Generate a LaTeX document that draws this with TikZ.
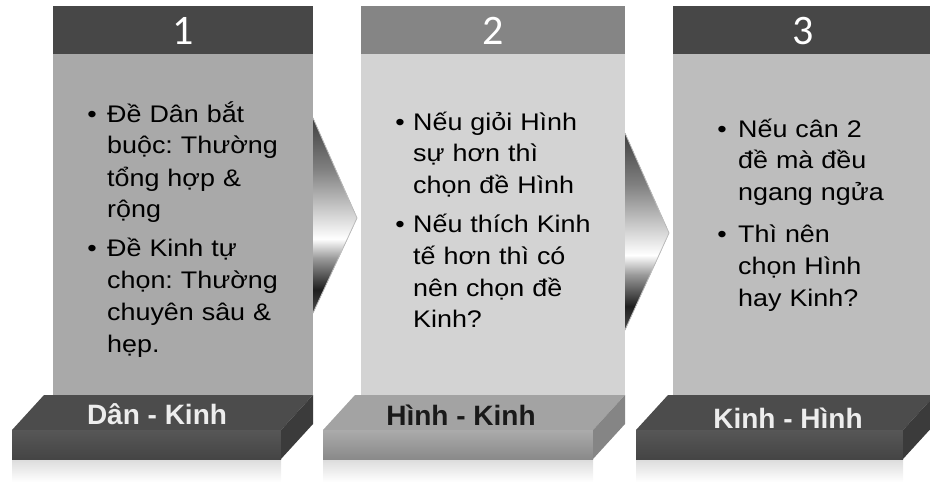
\documentclass[tikz,border=0pt]{standalone}
\usepackage{fontspec}
\setmainfont{Liberation Sans}
\newfontfamily\bodyfont[FakeStretch=1.12]{Liberation Sans}
\newfontfamily\numfont{Carlito}
\definecolor{headdark}{HTML}{474747}
\definecolor{headmid}{HTML}{858585}
\definecolor{bodyA}{HTML}{A9A9A9}
\definecolor{bodyB}{HTML}{D3D3D3}
\definecolor{bodyC}{HTML}{BDBDBD}
\frenchspacing
\pgfdeclareverticalshading{chevshade}{100bp}{color(0bp)=(black!70); color(25bp)=(black!70); color(31bp)=(black!88); color(39bp)=(black!40); color(44bp)=(white); color(52bp)=(black!22); color(62bp)=(black!50); color(75bp)=(black!75); color(100bp)=(black!75)}
\tikzset{
	numtext/.style={anchor=base, text=white, font=\numfont\fontsize{42}{42}\selectfont},
	bul/.style={anchor=base, inner sep=0pt, font=\bodyfont\fontsize{24}{32}\selectfont},
	txt/.style={anchor=base west, inner sep=0pt, text width=200pt, align=left, font=\bodyfont\frenchspacing\fontsize{24}{32}\selectfont},
	lbl/.style={anchor=base, font=\bfseries\fontsize{28}{28}\selectfont},
	chev/.style={shading=chevshade},
	refl/.style={top color=black!14, bottom color=white}
}
\begin{document}
\begin{tikzpicture}[x=1pt,y=-1pt]
	\useasboundingbox (0,0) rectangle (930,487);
	% Panels
	\fill[bodyA] (53,54) rectangle (313,395);
	\fill[bodyB] (361,54) rectangle (625,395);
	\fill[bodyC] (673,54) rectangle (930,395);
	\fill[headdark] (53,6) rectangle (313,54);
	\fill[headmid] (361,6) rectangle (625,54);
	\fill[headdark] (673,6) rectangle (930,54);
	\node[numtext] (n1) at (183,45) {1};
	\node[numtext] (n2) at (493,45) {2};
	\node[numtext] (n3) at (803,45) {3};
	% Chevrons
	\fill[chev] (313,118) -- (357,218) -- (313,313) -- cycle;
	\draw[black!25, line width=.8pt] (313,118) -- (357,218) -- (313,313);
	\fill[chev] (625,133) -- (669,233) -- (625,330) -- cycle;
	\draw[black!25, line width=.8pt] (625,133) -- (669,233) -- (625,330);
	% Bullets
	\node[bul] (b11) at (92,122) {•};
	\node[txt] (t11) at (107,122) {Đề Dân bắt\\buộc: Thường\\tổng hợp \&\\rộng};
	\node[bul] (b12) at (92,256) {•};
	\node[txt] (t12) at (107,256) {Đề Kinh tự\\chọn: Thường\\chuyên sâu \&\\hẹp.};
	\node[bul] (b21) at (400,130) {•};
	\node[txt] (t21) at (413,130) {Nếu giỏi Hình\\sự hơn thì\\chọn đề Hình};
	\node[bul] (b22) at (400,232) {•};
	\node[txt] (t22) at (413,232) {Nếu thích Kinh\\tế hơn thì có\\nên chọn đề\\Kinh?};
	\node[bul] (b31) at (722,137) {•};
	\node[txt] (t31) at (738,137) {Nếu cân 2\\đề mà đều\\ngang ngửa};
	\node[bul] (b32) at (722,242) {•};
	\node[txt] (t32) at (738,242) {Thì nên\\chọn Hình\\hay Kinh?};
	% Base slabs
	\fill[refl] (12,459) rectangle (281,482);
	\fill[refl] (323,459) rectangle (593,482);
	\fill[refl] (636,459) rectangle (903,482);
	\fill[black!70] (44,395) -- (313,395) -- (281,430) -- (12,430) -- cycle;
	\fill[top color=black!66, bottom color=black!73] (12,430) rectangle (281,459);
	\fill[black!77] (281,430) -- (313,395) -- (313,424) -- (281,459) -- cycle;
	\fill[black!36] (355,395) -- (625,395) -- (593,430) -- (323,430) -- cycle;
	\fill[top color=black!33, bottom color=black!46] (323,430) rectangle (593,459);
	\fill[black!48] (593,430) -- (625,395) -- (625,424) -- (593,459) -- cycle;
	\fill[black!70] (668,395) -- (935,395) -- (903,430) -- (636,430) -- cycle;
	\fill[top color=black!66, bottom color=black!73] (636,430) rectangle (903,459);
	\fill[black!77] (903,430) -- (935,395) -- (935,424) -- (903,459) -- cycle;
	\node[lbl, text=white!93!black] (s1) at (157,424) {Dân - Kinh};
	\node[lbl, text=black!90] (s2) at (461,425) {Hình - Kinh};
	\node[lbl, text=white!93!black] (s3) at (788,428) {Kinh - Hình};
\end{tikzpicture}
\end{document}
